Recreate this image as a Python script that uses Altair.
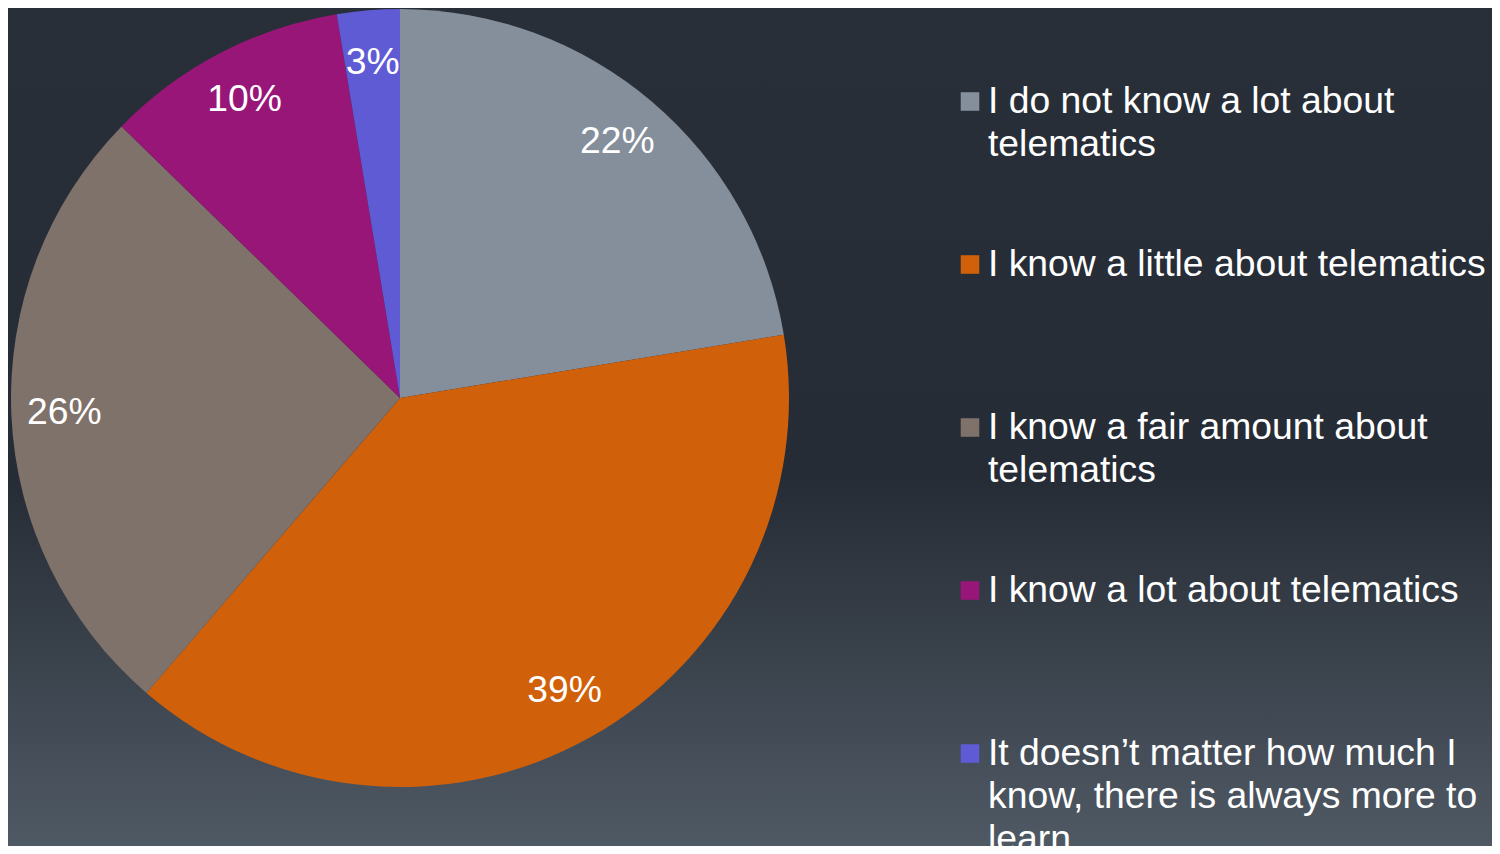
import altair as alt
import pandas as pd

categories = [
    "I do not know a lot about telematics",
    "I know a little about telematics",
    "I know a fair amount about telematics",
    "I know a lot about telematics",
    "It doesn\u2019t matter how much I know, there is always more to learn",
]
legend_text = [
    "I do not know a lot about\ntelematics",
    "I know a little about telematics",
    "I know a fair amount about\ntelematics",
    "I know a lot about telematics",
    "It doesn\u2019t matter how much I\nknow, there is always more to\nlearn",
]
values = [22.4, 38.9, 26.0, 10.1, 2.6]
colors = ["#858e9b", "#d1600a", "#7f726b", "#971678", "#5f5bd4"]

df = pd.DataFrame({
    "cat": categories,
    "legend": legend_text,
    "value": values,
    "order": list(range(len(categories))),
})

W, H = 1484, 838
CX, CY = 392, 390
FS = 37.3

bg = alt.Chart(pd.DataFrame({"a": [0]})).mark_rect(
    color=alt.Gradient(
        gradient="linear",
        stops=[
            alt.GradientStop(color="#282f38", offset=0),
            alt.GradientStop(color="#262c35", offset=0.56),
            alt.GradientStop(color="#4f5964", offset=1),
        ],
        x1=0, x2=0, y1=0, y2=1,
    )
).encode(
    x=alt.value(0), x2=alt.value(W), y=alt.value(0), y2=alt.value(H)
)

color_enc = alt.Color("cat:N", scale=alt.Scale(domain=categories, range=colors), legend=None)

base = alt.Chart(df)

pie = base.mark_arc(x=CX, y=CY, outerRadius=389).encode(
    theta=alt.Theta("value:Q", stack=True),
    order=alt.Order("order:Q"),
    color=color_enc,
)

labels = base.transform_calculate(
    lbl="format(datum.value, '.0f') + '%'"
).mark_text(
    x=CX, y=CY, radius=336, font="Liberation Sans", fontSize=FS,
    color="white", align="center", baseline="middle",
).encode(
    theta=alt.Theta("value:Q", stack=True),
    order=alt.Order("order:Q"),
    text="lbl:N",
)

yscale = alt.Scale(type="point", domain=categories, range=[105, 757], padding=0)

leg_sq = base.mark_square(x=962, size=345, yOffset=-11.5, opacity=1).encode(
    y=alt.Y("cat:N", scale=yscale, axis=None),
    color=color_enc,
)

leg_txt = base.mark_text(
    x=980, align="left", baseline="alphabetic", font="Liberation Sans",
    fontSize=FS, lineHeight=43, lineBreak="\n", color="white",
).encode(
    y=alt.Y("cat:N", scale=yscale, axis=None),
    text="legend:N",
)

chart = alt.layer(bg, pie, labels, leg_sq, leg_txt).properties(
    width=W, height=H, autosize=alt.AutoSizeParams(type="none"), padding=0,
    background="#262d36",
).configure_view(stroke=None)

chart.save("out.html", embed_options={"renderer": "svg", "actions": False})
